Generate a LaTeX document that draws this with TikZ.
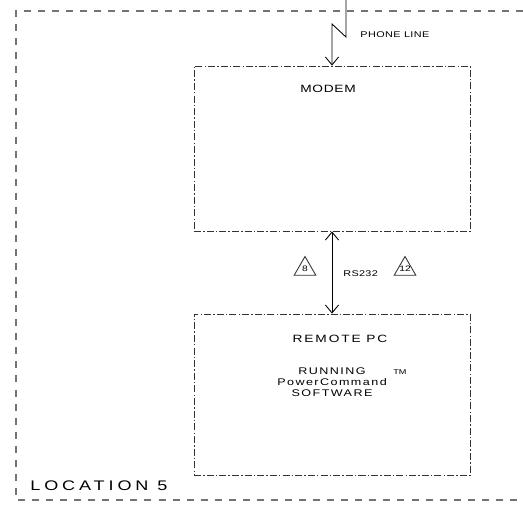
\documentclass[tikz,border=0pt]{standalone}
\usepackage{fontspec}
\setmainfont{Liberation Sans}[FakeStretch=1.3]
\usepackage{tikz}
\usetikzlibrary{arrows.meta,shapes.geometric,positioning}

\begin{document}
\begin{tikzpicture}[x=0.02cm, y=-0.02cm,
    frame/.style={draw=black!55, line width=0.6pt, dash pattern=on 4pt off 4pt},
    unit/.style={rectangle, draw=black!80, line width=0.5pt, dash pattern=on 4pt off 1.2pt on 0.8pt off 1.2pt, minimum width=5.52cm, inner sep=0pt},
    lbl/.style={inner sep=0pt, font=\fontsize{6}{7}\selectfont},
    small/.style={inner sep=0pt, font=\fontsize{4.75}{5.5}\selectfont},
    note/.style={regular polygon, regular polygon sides=3, draw=black!80, line width=0.5pt, minimum size=0.5cm, inner sep=-3pt, font=\fontsize{4.5}{5}\selectfont},
    sig/.style={draw, line width=0.5pt, -{Straight Barb[length=4.5pt, width=7.5pt]}}
]
    \useasboundingbox (0,0) rectangle (523,508);

    % location boundary
    \draw[frame] (523,11) -- (16,11) -- (16,500) -- (523,500);
    \node[inner sep=0pt, anchor=west, font=\fontsize{7.9}{9}\selectfont\addfontfeature{LetterSpace=28}] (loc) at (30,486) {LOCATION 5};

    \node[unit, minimum height=3.3cm] (modem) at (332,148.5) {};
    \node[lbl, font=\fontsize{6}{7}\selectfont\addfontfeature{LetterSpace=7}] (modemtxt) at (328,89) {MODEM};

    \node[unit, minimum height=3.22cm] (pc) at (332,394.5) {};
    \node[lbl, font=\fontsize{6}{7}\selectfont\addfontfeature{LetterSpace=18}] (pctxt) at (340,339) {REMOTE PC};
    \node[inner sep=0pt, align=center, font=\fontsize{5.5}{6.2}\selectfont\addfontfeature{LetterSpace=15}] (sw) at (332,382) {RUNNING\\PowerCommand\\SOFTWARE};
    \node[inner sep=0pt, anchor=west, font=\fontsize{4}{5}\selectfont] (tm) at (393,372) {TM};

    % phone line
    \coordinate (top) at (346,0);
    \coordinate (kink) at (332,24);
    \draw[sig] (top) -- (346,37) -- (kink) -- (modem.north);
    \node[small, anchor=west, font=\fontsize{4.75}{5.5}\selectfont\addfontfeature{LetterSpace=5}] (phone) at (360,35) {PHONE LINE};

    % rs232 link
    \draw[sig, {Straight Barb[length=4.5pt, width=7.5pt]}-{Straight Barb[length=4.5pt, width=7.5pt]}] (modem.south) -- (pc.north);
    \node[small, anchor=west, font=\fontsize{4.75}{5.5}\selectfont\addfontfeature{LetterSpace=4}] (rs) at (343,274) {RS232};
    \node[note] (n8) at (305,269) {8};
    \node[note] (n12) at (405,269) {12};
\end{tikzpicture}
\end{document}
